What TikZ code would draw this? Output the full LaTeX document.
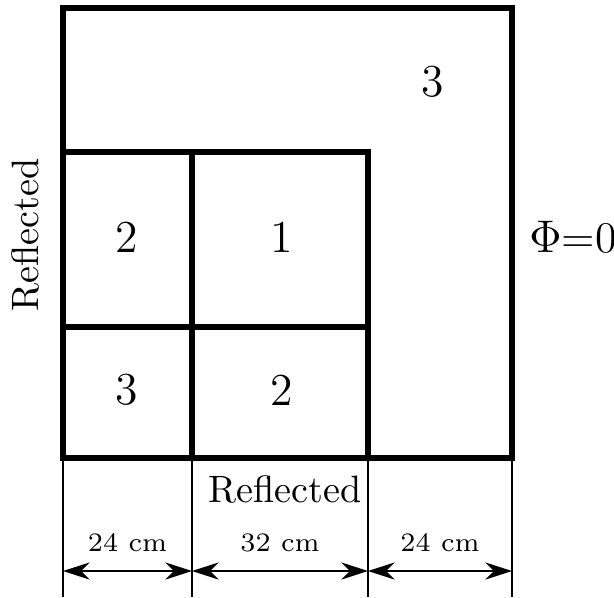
\documentclass[tikz,border=0pt]{standalone}
\usepackage{tikz}
\usetikzlibrary{arrows.meta}
\tikzset{
    wallline/.style={line width=1.6pt},
    dimline/.style={line width=0.45pt},
    dimarrow/.style={{Stealth[length=7pt,width=4.5pt]}-{Stealth[length=7pt,width=4.5pt]}, line width=0.45pt},
    regionlabel/.style={font=\large},
    dimlabel/.style={font=\scriptsize}
}

\begin{document}
\begin{tikzpicture}[x=0.2624pt, y=-0.2624pt]
            \useasboundingbox (0,0) rectangle (614,597);
            % corners of the grid
            \coordinate (tl) at (63,8);
            \coordinate (tr) at (512,8);
            \coordinate (bl) at (63,458);
            \coordinate (br) at (512,458);
            \coordinate (ml) at (63,152);
            \coordinate (mm) at (192,152);
            \coordinate (mr) at (368,152);
            \coordinate (cl) at (63,327);
            \coordinate (cr) at (368,327);
            \coordinate (bm) at (192,458);
            \coordinate (bn) at (368,458);
            
            \draw[wallline] (tl) rectangle (br);
            \draw[wallline] (ml) -- (mr) -- (bn);
            \draw[wallline] (mm) -- (bm);
            \draw[wallline] (cl) -- (cr);
            
            \node[regionlabel] (r1) at (282,237) {1};
            \node[regionlabel] (r2a) at (127,237) {2};
            \node[regionlabel] (r2b) at (282,390) {2};
            \node[regionlabel] (r3a) at (127,390) {3};
            \node[regionlabel] (r3b) at (433,82) {3};
            
            \node (refleft) at (25,235) [rotate=90] {Reflected};
            \node (refbot) at (285,489) {Reflected};
            \node[font=\fontsize{11.5}{14}\selectfont] (phi) at (573,237) {$\Phi$=0};
            
            % dimension lines
            \foreach \n/\x in {a/63, b/192, c/368, d/512} {
                \coordinate (d\n) at (\x,571);
                \draw[dimline] (\x,458) -- (\x,597);
            }
            \draw[dimarrow] (da) -- node[above=1.5pt,dimlabel] {24 cm} (db);
            \draw[dimarrow] (db) -- node[above=1.5pt,dimlabel] {32 cm} (dc);
            \draw[dimarrow] (dc) -- node[above=1.5pt,dimlabel] {24 cm} (dd);
        \end{tikzpicture}
\end{document}
